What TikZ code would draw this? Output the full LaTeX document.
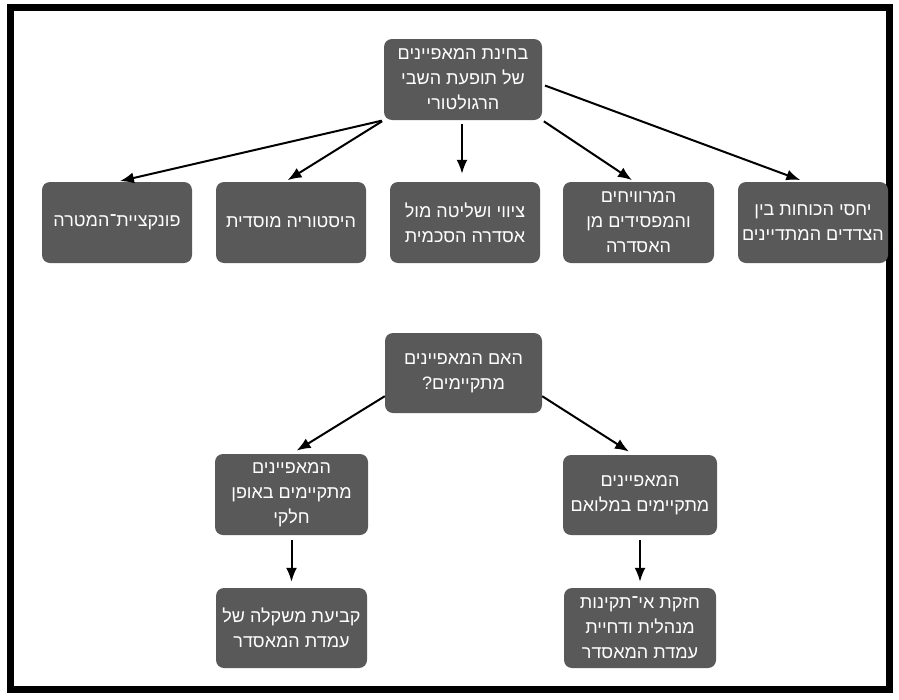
\documentclass[tikz,border=0pt]{standalone}
\usepackage{fontspec}
\newfontfamily\hebfont[Script=Hebrew]{Liberation Sans}
\TeXXeTstate=1
\usetikzlibrary{arrows.meta}
\definecolor{boxgray}{HTML}{595959}
\newcommand\hebline[1]{\beginR #1\endR}
\tikzset{
  box/.style={fill=boxgray, draw=none, rounded corners=8pt, minimum width=152pt,
    minimum height=81pt, text=white, align=center, inner sep=2pt,
    font=\hebfont\fontsize{18}{25}\selectfont},
  arr/.style={-{Latex[length=14pt,width=11pt]}, line width=2pt, shorten >=3pt},
}
\begin{document}
\begin{tikzpicture}[x=1pt,y=-1pt]
\useasboundingbox (0,0) rectangle (899,699);
\draw[line width=7pt] (10.5,7.5) rectangle (889.5,689.5);

\node[box, minimum width=158pt] (top) at (463,79.5) {\hebline{בחינת המאפיינים}\\\hebline{של תופעת השבי}\\\hebline{הרגולטורי}};

\node[box, minimum width=150pt] (b1) at (117,222.5) {\hebline{פונקציית־המטרה}};
\node[box, minimum width=150pt] (b2) at (291,222.5) {\hebline{היסטוריה מוסדית}};
\node[box, minimum width=150pt] (b3) at (465,222.5) {\hebline{ציווי ושליטה מול}\\\hebline{אסדרה הסכמית}};
\node[box, minimum width=151pt] (b4) at (638.5,222.5) {\hebline{המרוויחים}\\\hebline{והמפסידים מן}\\\hebline{האסדרה}};
\node[box, minimum width=150pt] (b5) at (813,222.5) {\hebline{יחסי הכוחות בין}\\\hebline{הצדדים המתדיינים}};

\node[box, minimum width=157pt, minimum height=80pt] (mid) at (463.5,373) {\hebline{האם המאפיינים}\\\hebline{מתקיימים?}};

\node[box, minimum width=153pt] (l1) at (291.5,494.5) {\hebline{המאפיינים}\\\hebline{מתקיימים באופן}\\\hebline{חלקי}};
\node[box, minimum width=154pt, minimum height=80pt] (r1) at (640,495) {\hebline{המאפיינים}\\\hebline{מתקיימים במלואם}};

\node[box, minimum width=151pt, minimum height=80pt] (l2) at (291.5,628) {\hebline{קביעת משקלה של}\\\hebline{עמדת המאסדר}};
\node[box, minimum width=152pt, minimum height=80pt] (r2) at (640,628) {\hebline{חזקת אי־תקינות}\\\hebline{מנהלית ודחיית}\\\hebline{עמדת המאסדר}};

\draw[arr, shorten <=2pt] (top.south west) -- (b1.north);
\draw[arr, shorten <=2pt] (top.south west) -- ([xshift=-6pt]b2.north);
\draw[arr, shorten <=4pt, shorten >=8pt] ([xshift=-1pt]top.south) -- ([xshift=-3pt]b3.north);
\draw[arr, shorten <=2pt] (top.south east) -- ([xshift=-4pt]b4.north);
\draw[arr, shorten <=3pt, shorten >=5pt] ([yshift=-5pt]top.east) -- ([xshift=-8pt]b5.north);

\draw[arr, shorten >=6pt] ([yshift=17pt]mid.south west) -- (l1.north);
\draw[arr, shorten >=6pt] ([yshift=17pt]mid.south east) -- ([xshift=-6pt]r1.north);

\draw[arr, shorten <=5pt, shorten >=6pt] (l1.south) -- (l2.north);
\draw[arr, shorten <=5pt, shorten >=6pt] (r1.south) -- (r2.north);
\end{tikzpicture}
\end{document}
